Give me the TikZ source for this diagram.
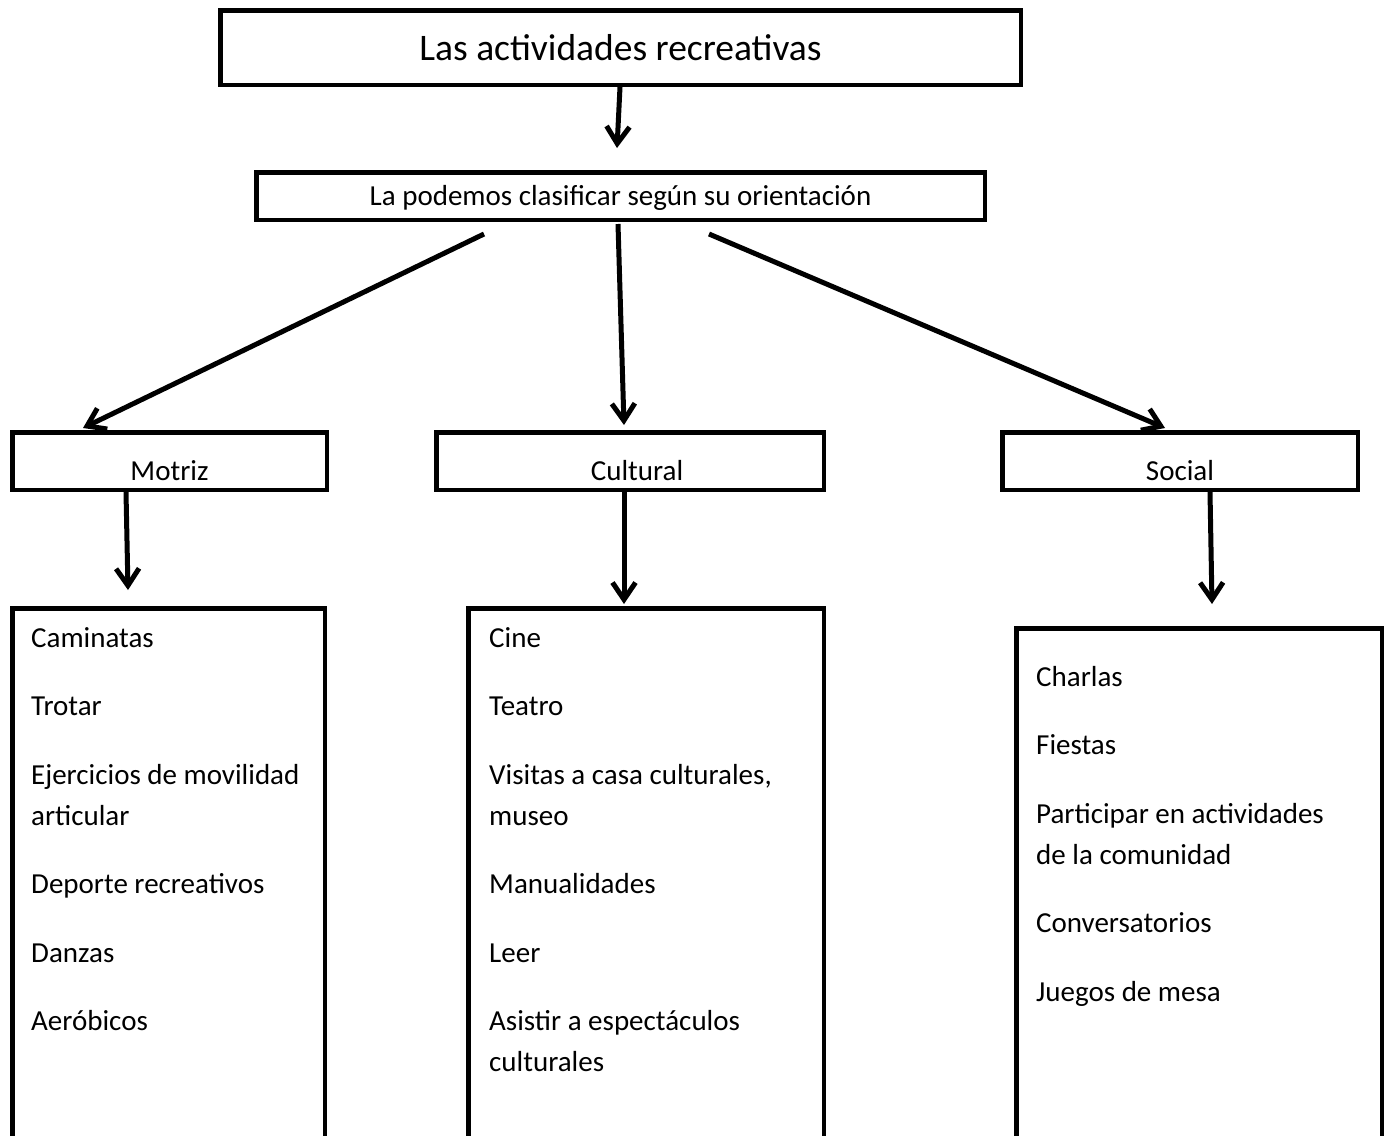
\documentclass[tikz,border=0pt]{standalone}
\usepackage{fontspec}
\setmainfont{Carlito}
\usetikzlibrary{arrows.meta}

\tikzset{
  box/.style={draw, line width=4.5pt, inner sep=0pt},
  catbox/.style={box, minimum height=57.5pt, text height=38pt, text depth=0pt},
  listbox/.style={box, anchor=north west, minimum height=600pt},
  listtext/.style={anchor=north west, align=left, inner sep=0pt},
  arr/.style={line width=5pt, -{Straight Barb[length=17pt,width=23pt]}},
}

\begin{document}
\begin{tikzpicture}[x=1pt, y=-1pt, font=\fontsize{29}{41}\selectfont]
\useasboundingbox (0,0) rectangle (1386,1135);

% Top boxes
\node (title) at (620.5,47.5) [box, minimum width=800.5pt, minimum height=74.5pt, font=\fontsize{37.5}{44}\selectfont] {Las actividades recreativas};
\node (clasif) at (620.5,196) [box, minimum width=728.5pt, minimum height=47.5pt, text height=24pt, text depth=6pt] {La podemos clasificar según su orientación};
\draw [arr] ([xshift=-0.5pt]title.south) -- ([xshift=-3.5pt, yshift=22pt]clasif.north);

% Categories
\node (motriz) at (169.5,461) [catbox, minimum width=314.5pt] {Motriz};
\node (cultural) at (630,461) [catbox, minimum width=387.5pt] {\hspace*{14pt}Cultural};
\node (social) at (1180,461) [catbox, minimum width=355.5pt] {Social};
\draw [arr] ([xshift=-136.5pt, yshift=-12pt]clasif.south) -- ([xshift=-86.5pt, yshift=2pt]motriz.north);
\draw [arr] ([xshift=-2.5pt, yshift=-2pt]clasif.south) -- ([xshift=-6pt, yshift=5pt]cultural.north);
\draw [arr] ([xshift=88.5pt, yshift=-12pt]clasif.south) -- ([xshift=-15pt, yshift=2pt]social.north);

% Lists
\node (motrizlist) at (10,606) [listbox, minimum width=312.5pt] {};
\node (culturallist) at (466,606) [listbox, minimum width=355.5pt] {};
\node (sociallist) at (1014,626) [listbox, minimum width=365.5pt] {};
\draw [arr] ([xshift=-43.5pt]motriz.south) -- ([xshift=-40.5pt, yshift=16pt]motrizlist.north);
\draw [arr] ([xshift=-6pt]cultural.south) -- ([xshift=-22pt, yshift=2pt]culturallist.north);
\draw [arr] ([xshift=30pt]social.south) -- ([xshift=13pt, yshift=22pt]sociallist.north);

\node (motrizitems) at ([xshift=21pt, yshift=-12.3pt]motrizlist.north west) [listtext] {\strut Caminatas\\[27.5pt]
  Trotar\\[27.5pt]
  Ejercicios de movilidad\\articular\\[27.5pt]
  Deporte recreativos\\[27.5pt]
  Danzas\\[27.5pt]
  Aeróbicos};
\node (culturalitems) at ([xshift=23pt, yshift=-12.3pt]culturallist.north west) [listtext] {\strut Cine\\[27.5pt]
  Teatro\\[27.5pt]
  Visitas a casa culturales,\\museo\\[27.5pt]
  Manualidades\\[27.5pt]
  Leer\\[27.5pt]
  Asistir a espectáculos\\culturales};
\node (socialitems) at ([xshift=22pt, yshift=-31.3pt]sociallist.north west) [listtext] {\strut Charlas\\[27.5pt]
  Fiestas\\[27.5pt]
  Participar en actividades\\de la comunidad\\[27.5pt]
  Conversatorios\\[27.5pt]
  Juegos de mesa};

\end{tikzpicture}
\end{document}
